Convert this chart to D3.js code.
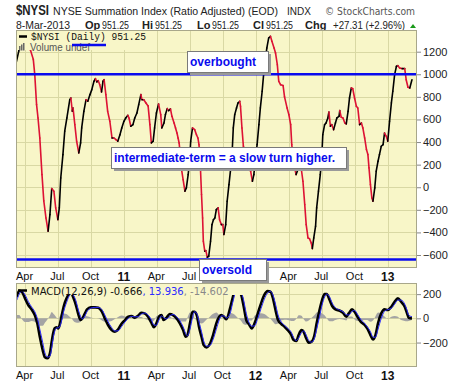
<!DOCTYPE html>
<html>
<head>
<meta charset="utf-8">
<script src="https://cdn.jsdelivr.net/npm/d3@7"></script>
<style>
body { margin: 0; background: #fff; }
svg { display: block; font-family: "Liberation Sans", Arial, sans-serif; }
</style>
</head>
<body>
<div id="chart"></div>
<script>
// NYSI summation index
var nysiDates = ["2010-03-08","2010-03-15","2010-03-26","2010-04-08","2010-04-16","2010-04-24","2010-04-28","2010-05-03","2010-05-07","2010-05-12","2010-05-18","2010-05-23","2010-05-29","2010-06-04","2010-06-09","2010-06-14","2010-06-20","2010-06-25","2010-07-01","2010-07-05","2010-07-09","2010-07-15","2010-07-20","2010-07-26","2010-08-03","2010-08-06","2010-08-10","2010-08-12","2010-08-17","2010-08-22","2010-08-28","2010-09-02","2010-09-05","2010-09-11","2010-09-17","2010-09-22","2010-09-28","2010-10-03","2010-10-09","2010-10-13","2010-10-17","2010-10-21","2010-10-25","2010-10-30","2010-11-03","2010-11-06","2010-11-11","2010-11-16","2010-11-22","2010-11-28","2010-12-03","2010-12-09","2010-12-14","2010-12-20","2010-12-25","2010-12-31","2011-01-05","2011-01-11","2011-01-14","2011-01-19","2011-01-25","2011-01-30","2011-02-05","2011-02-10","2011-02-16","2011-02-19","2011-02-24","2011-03-02","2011-03-08","2011-03-13","2011-03-17","2011-03-22","2011-03-26","2011-03-31","2011-04-06","2011-04-12","2011-04-15","2011-04-21","2011-04-25","2011-04-30","2011-05-04","2011-05-09","2011-05-13","2011-05-19","2011-05-23","2011-05-27","2011-05-30","2011-06-02","2011-06-05","2011-06-08","2011-06-13","2011-06-18","2011-06-22","2011-06-27","2011-07-01","2011-07-04","2011-07-09","2011-07-15","2011-07-20","2011-07-24","2011-07-27","2011-07-31","2011-08-03","2011-08-06","2011-08-08","2011-08-12","2011-08-15","2011-08-19","2011-08-23","2011-08-28","2011-09-01","2011-09-05","2011-09-09","2011-09-13","2011-09-18","2011-09-22","2011-09-27","2011-10-01","2011-10-04","2011-10-09","2011-10-13","2011-10-18","2011-10-23","2011-10-27","2011-10-30","2011-11-03","2011-11-08","2011-11-12","2011-11-17","2011-11-19","2011-11-23","2011-11-27","2011-12-04","2011-12-10","2011-12-17","2011-12-22","2011-12-26","2011-12-30","2012-01-04","2012-01-09","2012-01-13","2012-01-18","2012-01-22","2012-01-27","2012-01-31","2012-02-05","2012-02-10","2012-02-14","2012-02-20","2012-02-24","2012-02-29","2012-03-04","2012-03-09","2012-03-16","2012-03-20","2012-03-27","2012-04-01","2012-04-06","2012-04-09","2012-04-13","2012-04-17","2012-04-21","2012-04-26","2012-05-01","2012-05-05","2012-05-10","2012-05-15","2012-05-19","2012-05-24","2012-05-28","2012-06-02","2012-06-05","2012-06-09","2012-06-14","2012-06-17","2012-06-22","2012-06-27","2012-07-01","2012-07-04","2012-07-09","2012-07-13","2012-07-18","2012-07-21","2012-07-25","2012-07-29","2012-08-03","2012-08-08","2012-08-12","2012-08-18","2012-08-20","2012-08-24","2012-08-29","2012-09-03","2012-09-07","2012-09-12","2012-09-16","2012-09-21","2012-09-25","2012-09-30","2012-10-05","2012-10-09","2012-10-14","2012-10-19","2012-10-23","2012-10-28","2012-11-02","2012-11-06","2012-11-09","2012-11-13","2012-11-17","2012-11-20","2012-11-25","2012-11-29","2012-12-04","2012-12-08","2012-12-13","2012-12-18","2012-12-22","2012-12-27","2012-12-31","2013-01-05","2013-01-10","2013-01-14","2013-01-19","2013-01-24","2013-01-28","2013-02-02","2013-02-09","2013-02-16","2013-02-20","2013-02-25","2013-03-02","2013-03-08"];
var nysiValues = [1110,1210,1290,1280,1215,1130,997,731,613,436,112,-121,-272,-390,-242,-12,-35,-183,-287,-183,82,289,496,613,775,790,673,702,554,407,304,392,525,672,775,761,820,864,938,961,932,943,908,843,938,952,820,672,584,436,436,421,407,465,525,584,613,637,613,540,554,613,657,731,820,775,775,746,720,554,392,407,525,657,737,643,525,569,643,696,678,693,628,569,525,480,436,392,290,171,67,-35,-6,112,233,407,525,510,465,436,377,171,-65,-272,-478,-566,-561,-620,-611,-478,-331,-287,-272,-198,-183,-287,-331,-331,-419,-331,-124,23,171,319,525,643,702,746,761,717,525,363,290,230,142,53,112,244,377,554,702,850,997,1129,1233,1321,1336,1292,1233,1189,1085,938,908,900,800,702,643,554,377,250,171,112,156,230,171,53,-154,-331,-449,-455,-493,-543,-449,-345,-183,-35,112,259,465,554,569,613,666,540,554,510,569,613,628,678,620,613,569,560,672,790,879,873,790,717,702,554,569,525,436,333,289,171,23,-95,-124,-6,142,230,289,363,377,480,451,407,584,746,850,997,1071,1076,1056,1050,1050,952,885,879,951.25];

// MACD(12,26,9) line and signal
var macdDates = ["2010-03-09","2010-03-16","2010-03-23","2010-04-01","2010-04-10","2010-04-19","2010-04-28","2010-05-05","2010-05-12","2010-05-20","2010-05-26","2010-06-02","2010-06-09","2010-06-14","2010-06-18","2010-06-22","2010-06-27","2010-07-02","2010-07-06","2010-07-11","2010-07-17","2010-07-25","2010-08-01","2010-08-08","2010-08-12","2010-08-20","2010-08-26","2010-09-02","2010-09-07","2010-09-14","2010-09-20","2010-09-30","2010-10-12","2010-10-21","2010-10-31","2010-11-08","2010-11-17","2010-11-27","2010-12-06","2010-12-15","2010-12-24","2011-01-03","2011-01-12","2011-01-21","2011-01-30","2011-02-08","2011-02-17","2011-02-26","2011-03-08","2011-03-17","2011-03-24","2011-03-31","2011-04-07","2011-04-14","2011-04-20","2011-04-28","2011-05-07","2011-05-16","2011-05-26","2011-06-04","2011-06-13","2011-06-20","2011-06-25","2011-07-02","2011-07-09","2011-07-15","2011-07-22","2011-07-27","2011-08-03","2011-08-09","2011-08-17","2011-08-26","2011-09-04","2011-09-13","2011-09-21","2011-09-27","2011-10-04","2011-10-11","2011-10-21","2011-10-28","2011-11-03","2011-11-11","2011-11-21","2011-11-28","2011-12-05","2011-12-12","2011-12-20","2011-12-28","2012-01-06","2012-01-15","2012-01-24","2012-02-02","2012-02-10","2012-02-17","2012-02-24","2012-03-02","2012-03-11","2012-03-20","2012-03-29","2012-04-08","2012-04-14","2012-04-22","2012-04-28","2012-05-06","2012-05-12","2012-05-19","2012-05-26","2012-06-03","2012-06-11","2012-06-17","2012-06-25","2012-07-02","2012-07-09","2012-07-15","2012-07-23","2012-07-30","2012-08-08","2012-08-20","2012-08-29","2012-09-07","2012-09-14","2012-09-23","2012-09-30","2012-10-08","2012-10-17","2012-10-28","2012-11-04","2012-11-13","2012-11-20","2012-11-27","2012-12-04","2012-12-13","2012-12-22","2012-12-31","2013-01-10","2013-01-19","2013-01-28","2013-02-06","2013-02-16","2013-02-22","2013-02-27","2013-03-08"];
var macdValues = [178,228,220,165,110,74,27,-41,-152,-262,-322,-330,-289,-193,-124,-83,-74,-83,-55,13,96,165,201,206,178,110,41,-14,0,41,74,91,91,88,55,0,-55,-97,-111,-91,-47,-14,13,19,5,21,46,41,13,-36,-74,-41,13,27,-14,5,36,27,0,-41,-97,-152,-138,-41,55,55,13,-69,-152,-221,-240,-212,-138,-41,13,27,13,-8,83,165,225,235,193,96,-14,-47,-83,-41,41,124,193,225,220,165,69,-14,-47,-69,-97,-138,-179,-187,-138,-97,-111,-165,-201,-193,-138,-41,69,151,201,201,151,102,74,63,46,13,41,74,55,13,-28,-55,-83,-138,-174,-138,-41,41,74,69,96,137,165,137,96,46,5,-0.666];
var signalValues = [150,200,225,195,140,95,55,0,-90,-200,-285,-320,-312,-245,-165,-110,-80,-78,-70,-25,55,130,183,205,195,145,78,15,-5,20,57,84,91,90,72,28,-28,-76,-105,-103,-70,-30,0,16,12,13,34,44,27,-12,-55,-58,-14,20,6,-5,20,32,13,-20,-70,-125,-145,-90,5,55,34,-28,-110,-187,-230,-226,-175,-90,-14,20,20,3,38,124,195,230,214,145,40,-30,-65,-62,0,82,158,209,223,193,117,28,-30,-58,-83,-117,-158,-183,-163,-118,-104,-138,-183,-197,-165,-90,14,110,176,201,176,127,88,68,55,30,27,58,65,34,-8,-42,-69,-110,-156,-156,-90,0,58,72,83,117,151,151,117,71,26,13.936];

var yTicks = [-600, -400, -200, 0, 200, 400, 600, 800, 1000, 1200];
var macdTicks = [-200, 0, 200];
var levelValues = [1000, -640];
var quarterDates = ["2010-04-01","2010-07-01","2010-10-01","2011-01-01","2011-04-01","2011-07-01","2011-10-01","2012-01-01","2012-04-01","2012-07-01","2012-10-01","2013-01-01"];
var quarterLabels = ["Apr","Jul","Oct","11","Apr","Jul","Oct","12","Apr","Jul","Oct","13"];
var notes = [
  {text: "overbought", x: 187, y: 51, w: 81, h: 21},
  {text: "intermediate-term = a slow turn higher.", x: 111, y: 147, w: 235, h: 21},
  {text: "oversold", x: 199, y: 259, w: 67, h: 21}
];

var width = 460, height = 383;
var left = 16, right = 417;
var mainTop = 30, mainBottom = 268, macdTop = 283, macdBottom = 367;
var bg = '#f8f6c8', gridColor = '#d9d8a4', borderColor = '#a8a78a';
var red = '#dd1234', blue = '#0a0aee';

var parse = d3.timeParse('%Y-%m-%d');

var nysi = nysiDates.map(function(d, i) { return {date: parse(d), value: nysiValues[i]}; });
var macd = macdDates.map(function(d, i) {
  return {date: parse(d), macd: macdValues[i], signal: signalValues[i], hist: macdValues[i] - signalValues[i]};
});
var qDates = quarterDates.map(parse);

var svg = d3.select('#chart').append('svg')
  .attr('width', width)
  .attr('height', height);

var x = d3.scaleTime().domain([parse('2010-03-07'), parse('2013-03-22')]).range([left, right]);
var y = d3.scaleLinear().domain([-715, 1392]).range([mainBottom, mainTop]);
var ym = d3.scaleLinear().domain([-402, 292]).range([macdBottom, macdTop]);

// header
var head = svg.append('g').style('fill', '#222');
head.append('text').attr('x', 16).attr('y', 15).text('$NYSI')
  .style('font-weight', 'bold').style('font-size', '14px')
  .attr('textLength', 33).attr('lengthAdjust', 'spacingAndGlyphs');
head.append('text').attr('x', 53).attr('y', 15).text('NYSE Summation Index (Ratio Adjusted) (EOD)')
  .style('font-size', '11px').attr('textLength', 225).attr('lengthAdjust', 'spacingAndGlyphs');
head.append('text').attr('x', 287).attr('y', 15).text('INDX').style('font-size', '10px');
head.append('text').attr('x', 325).attr('y', 15).text('\u00a9 StockCharts.com')
  .style('font-size', '10px').style('fill', '#555').style('font-family', 'DejaVu Sans')
  .attr('textLength', 90).attr('lengthAdjust', 'spacingAndGlyphs');

var quote = [
  {t: '8-Mar-2013', x: 16, w: 54, b: false},
  {t: 'Op', x: 85, b: true}, {t: '951.25', x: 102, w: 27, b: false},
  {t: 'Hi', x: 142, b: true}, {t: '951.25', x: 155, w: 27, b: false},
  {t: 'Lo', x: 197, b: true}, {t: '951.25', x: 212, w: 27, b: false},
  {t: 'Cl', x: 253, b: true}, {t: '951.25', x: 266, w: 27, b: false},
  {t: 'Chg', x: 305, b: true}, {t: '+27.31 (+2.96%)', x: 333, w: 72, b: false}
];
head.selectAll('text.q').data(quote).enter().append('text')
  .attr('class', 'q')
  .attr('x', function(d) { return d.x; })
  .attr('y', 29)
  .text(function(d) { return d.t; })
  .attr('textLength', function(d) { return d.w || null; })
  .attr('lengthAdjust', 'spacingAndGlyphs')
  .style('font-size', '11px')
  .style('font-weight', function(d) { return d.b ? 'bold' : 'normal'; });
head.append('path').attr('d', 'M410,28 L413,24 L416,28 Z').style('fill', '#1a9a1a');

// panels
function panel(top, bottom, yScale, ticks, id) {
  var g = svg.append('g');
  g.append('rect').attr('x', left).attr('y', top).attr('width', right - left).attr('height', bottom - top)
    .style('fill', bg);
  g.append('clipPath').attr('id', id).append('rect')
    .attr('x', left).attr('y', top).attr('width', right - left).attr('height', bottom - top);
  g.selectAll('line.hg').data(ticks).enter().append('line')
    .attr('x1', left).attr('x2', right)
    .attr('y1', function(d) { return Math.round(yScale(d)) + 0.5; })
    .attr('y2', function(d) { return Math.round(yScale(d)) + 0.5; })
    .style('stroke', gridColor);
  g.selectAll('line.vg').data(qDates).enter().append('line')
    .attr('x1', function(d) { return Math.round(x(d)) + 0.5; })
    .attr('x2', function(d) { return Math.round(x(d)) + 0.5; })
    .attr('y1', top).attr('y2', bottom)
    .style('stroke', gridColor);
  return g;
}

var main = panel(mainTop, mainBottom, y, yTicks, 'clipMain');
var lower = panel(macdTop, macdBottom, ym, macdTicks, 'clipMacd');

// NYSI line, black when rising and red when falling
main.append('g').attr('clip-path', 'url(#clipMain)')
  .selectAll('line').data(d3.pairs(nysi)).enter().append('line')
  .attr('x1', function(d) { return x(d[0].date); })
  .attr('y1', function(d) { return y(d[0].value); })
  .attr('x2', function(d) { return x(d[1].date); })
  .attr('y2', function(d) { return y(d[1].value); })
  .style('stroke', function(d) { return d[1].value >= d[0].value ? '#000' : red; })
  .style('stroke-width', 1.6)
  .style('stroke-linecap', 'round');

// overbought / oversold levels
main.selectAll('line.level').data(levelValues).enter().append('line')
  .attr('x1', left).attr('x2', right)
  .attr('y1', function(d) { return y(d); })
  .attr('y2', function(d) { return y(d); })
  .style('stroke', blue).style('stroke-width', 2.5);

// legend of the top panel
main.append('rect').attr('x', 17).attr('y', 31).attr('width', 132).attr('height', 19).style('fill', bg);
main.append('line').attr('x1', 19).attr('x2', 27).attr('y1', 36.5).attr('y2', 36.5)
  .style('stroke', '#000').style('stroke-width', 2.5);
main.append('text').attr('x', 31).attr('y', 40).text('$NYSI (Daily) 951.25')
  .style('font-family', '"Liberation Mono", monospace').style('font-size', '10.5px').style('fill', '#111')
  .attr('textLength', 115).attr('lengthAdjust', 'spacingAndGlyphs');
[0, 2, 4].forEach(function(dx, i) {
  main.append('rect').attr('x', 19 + dx).attr('y', 46 - i * 1.5).attr('width', 1.5).attr('height', 4.5 + i * 1.5)
    .style('fill', '#666');
});
main.append('text').attr('x', 30).attr('y', 51).text('Volume undef')
  .style('font-size', '10px').style('fill', '#555')
  .attr('textLength', 60).attr('lengthAdjust', 'spacingAndGlyphs');
main.append('line').attr('x1', 72).attr('x2', 106).attr('y1', 45).attr('y2', 45)
  .style('stroke', blue).style('stroke-width', 2.5);

// MACD panel
var clipped = lower.append('g').attr('clip-path', 'url(#clipMacd)');
clipped.append('path').datum(macd)
  .attr('d', d3.area().curve(d3.curveMonotoneX)
    .x(function(d) { return x(d.date); })
    .y0(ym(0))
    .y1(function(d) { return ym(d.hist); }))
  .style('fill', '#a4a4a4');
clipped.append('path').datum(macd)
  .attr('d', d3.line().curve(d3.curveMonotoneX)
    .x(function(d) { return x(d.date); })
    .y(function(d) { return ym(d.macd); }))
  .style('fill', 'none').style('stroke', '#000').style('stroke-width', 2.6);
clipped.append('path').datum(macd)
  .attr('d', d3.line().curve(d3.curveMonotoneX)
    .x(function(d) { return x(d.date); })
    .y(function(d) { return ym(d.signal); }))
  .style('fill', 'none').style('stroke', '#2b2bff').style('stroke-width', 1);

lower.append('rect').attr('x', 30).attr('y', 284).attr('width', 226).attr('height', 11).style('fill', bg);
lower.append('line').attr('x1', 18).attr('x2', 27).attr('y1', 290.5).attr('y2', 290.5)
  .style('stroke', '#000').style('stroke-width', 2.5);
var ml = lower.append('text').attr('x', 31).attr('y', 294.5)
  .style('font-family', '"DejaVu Sans", sans-serif').style('font-size', '10px');
ml.append('tspan').text('MACD(12,26,9) -0.666').style('fill', '#111');
ml.append('tspan').text(', 13.936').style('fill', '#2b2bff');
ml.append('tspan').text(', -14.602').style('fill', '#888');

// borders
[[mainTop, mainBottom], [macdTop, macdBottom]].forEach(function(p) {
  svg.append('rect').attr('x', left + 0.5).attr('y', p[0] + 0.5)
    .attr('width', right - left - 1).attr('height', p[1] - p[0] - 1)
    .style('fill', 'none').style('stroke', borderColor);
});

// right axes
function rightAxis(scale, ticks, minor) {
  var g = svg.append('g').attr('transform', 'translate(' + right + ',0)');
  g.call(d3.axisRight(scale).tickValues(minor).tickSize(2).tickFormat(''));
  g.call(d3.axisRight(scale).tickValues(ticks).tickSize(4).tickPadding(2).tickFormat(d3.format('d')));
  g.selectAll('.domain').remove();
  g.selectAll('line').style('stroke', '#888');
  g.selectAll('text').style('font-size', '11px').style('fill', '#222')
    .style('font-family', '"Liberation Sans", Arial, sans-serif');
}
rightAxis(y, yTicks, d3.range(-700, 1400, 50));
rightAxis(ym, macdTicks, d3.range(-400, 300, 50));

// date labels above and below the MACD panel; the oversold box hides some of the upper ones
var hidden = notes[2];
function dateAxis(yPos, skipBox) {
  var g = svg.append('g').attr('transform', 'translate(-1,' + yPos + ')');
  g.call(d3.axisBottom(x).tickValues(qDates).tickSize(0).tickPadding(4)
    .tickFormat(function(d, i) { return quarterLabels[i]; }));
  g.selectAll('.domain').remove();
  if (skipBox) {
    g.selectAll('.tick').filter(function(d) { return x(d) > hidden.x && x(d) < hidden.x + hidden.w + 3; }).remove();
  }
  g.selectAll('text')
    .style('font-family', '"Liberation Sans", Arial, sans-serif')
    .style('fill', '#111')
    .style('font-size', function() { return this.textContent.length == 2 ? '12px' : '11px'; })
    .style('font-weight', function() { return this.textContent.length == 2 ? 'bold' : 'normal'; });
}
dateAxis(mainBottom, true);
dateAxis(macdBottom, false);

// annotation boxes
var note = svg.selectAll('g.note').data(notes).enter().append('g');
note.append('rect')
  .attr('x', function(d) { return d.x + 3; })
  .attr('y', function(d) { return d.y + 3; })
  .attr('width', function(d) { return d.w; })
  .attr('height', function(d) { return d.h; })
  .style('fill', '#9a9a9a');
note.append('rect')
  .attr('x', function(d) { return d.x + 0.5; })
  .attr('y', function(d) { return d.y + 0.5; })
  .attr('width', function(d) { return d.w; })
  .attr('height', function(d) { return d.h; })
  .style('fill', '#fff').style('stroke', '#7a7a7a');
note.append('text')
  .attr('x', function(d) { return d.x + 3; })
  .attr('y', function(d) { return d.y + 15; })
  .text(function(d) { return d.text; })
  .style('font-weight', 'bold').style('font-size', '12px').style('fill', blue);
</script>
</body>
</html>
